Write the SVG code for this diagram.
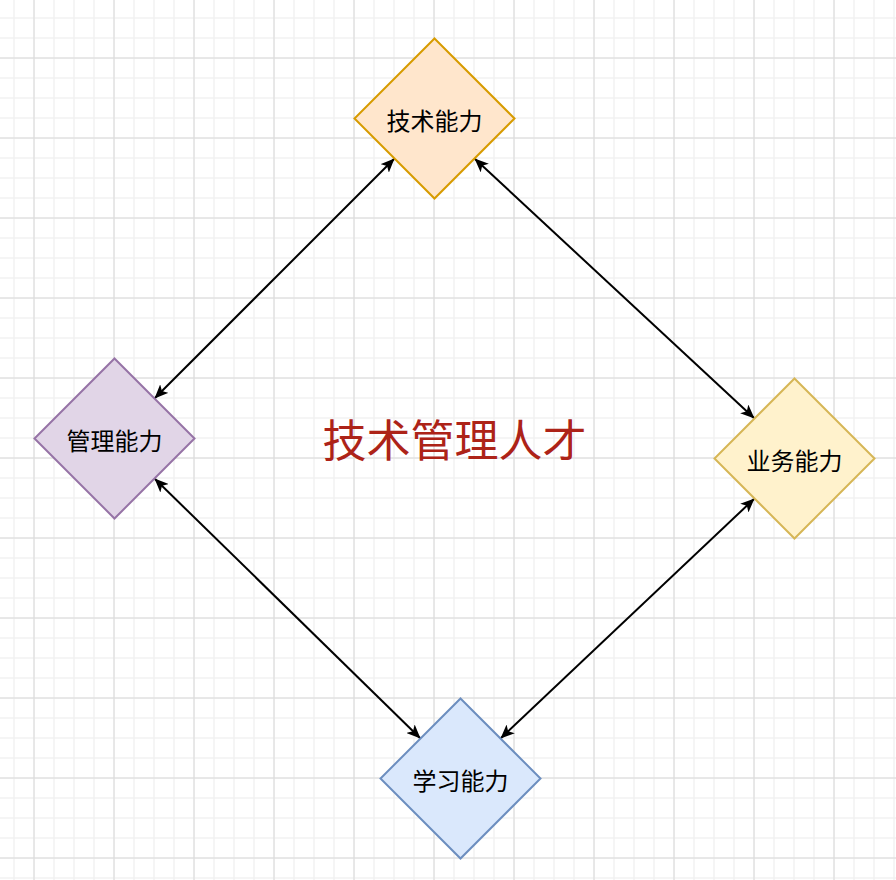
<svg xmlns="http://www.w3.org/2000/svg" width="896" height="880" viewBox="0 0 896 880">
  <defs>
    <pattern id="minor" width="20" height="20" x="4" y="8" patternUnits="userSpaceOnUse">
      <path d="M10 0V20M0 10H20" stroke="#f2f2f2" stroke-width="1.5" fill="none"/>
    </pattern>
    <pattern id="major" width="80" height="80" x="-6" y="18" patternUnits="userSpaceOnUse">
      <path d="M40 0V80M0 40H80" stroke="#dadada" stroke-width="1" fill="none"/>
    </pattern>
    <marker id="arr" viewBox="0 0 14 12" refX="14" refY="6" markerWidth="14" markerHeight="12" markerUnits="userSpaceOnUse" orient="auto-start-reverse">
      <path d="M0,0 L14,6 L0,12 L3.5,6 z" fill="#000"/>
    </marker>
    <style>
      .lbl { font-family: "Noto Sans CJK SC", "Noto Sans", sans-serif; font-size: 24px; fill: #000; text-anchor: middle; dominant-baseline: central; }
      .title { font-family: "Noto Sans CJK SC", "Noto Sans", sans-serif; font-size: 44px; fill: #AD2318; text-anchor: middle; dominant-baseline: central; }
      .edge { stroke: #000; stroke-width: 2; fill: none; marker-start: url(#arr); marker-end: url(#arr); }
      .node path { stroke-width: 2; }
    </style>
  </defs>
  <rect width="896" height="880" fill="#fff"/>
  <rect width="896" height="880" fill="url(#minor)"/>
  <rect width="896" height="880" fill="url(#major)"/>

  <g id="connectors">
    <line class="edge" x1="394.5" y1="158.5" x2="154.5" y2="398.5"/>
    <line class="edge" x1="474.5" y1="158.5" x2="754.5" y2="418.5"/>
    <line class="edge" x1="154.5" y1="478.5" x2="420.5" y2="738.5"/>
    <line class="edge" x1="754.5" y1="498.5" x2="500.5" y2="738.5"/>
  </g>

  <g id="node-tech" class="node">
    <path d="M434.5 38.5L514.5 118.5L434.5 198.5L354.5 118.5Z" fill="#ffe6cc" stroke="#d79b00"/>
    <text class="lbl" x="434.5" y="119">技术能力</text>
  </g>
  <g id="node-mgmt" class="node">
    <path d="M114.5 358.5L194.5 438.5L114.5 518.5L34.5 438.5Z" fill="#e1d5e7" stroke="#9673a6"/>
    <text class="lbl" x="114.5" y="439">管理能力</text>
  </g>
  <g id="node-biz" class="node">
    <path d="M794.5 378.5L874.5 458.5L794.5 538.5L714.5 458.5Z" fill="#fff2cc" stroke="#d6b656"/>
    <text class="lbl" x="794.5" y="459">业务能力</text>
  </g>
  <g id="node-learn" class="node">
    <path d="M460.5 698.5L540.5 778.5L460.5 858.5L380.5 778.5Z" fill="#dae8fc" stroke="#6c8ebf"/>
    <text class="lbl" x="460.5" y="779">学习能力</text>
  </g>
  <g id="title">
    <text class="title" x="454.5" y="438">技术管理人才</text>
  </g>
</svg>
